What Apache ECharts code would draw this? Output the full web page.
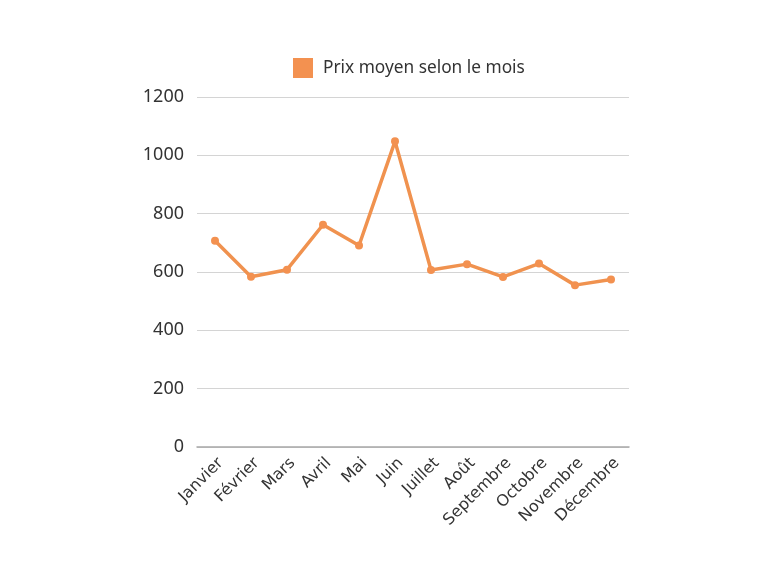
<!DOCTYPE html>
<html>
<head>
<meta charset="utf-8">
<script src="https://cdn.jsdelivr.net/npm/echarts@6/dist/echarts.min.js"></script>
<style>html,body{margin:0;padding:0;background:#fff;}#c{width:768px;height:576px;}</style>
</head>
<body>
<div id="c"></div>
<script>
const categories = ['Janvier','Février','Mars','Avril','Mai','Juin','Juillet','Août','Septembre','Octobre','Novembre','Décembre'];
const seriesName = 'Prix moyen selon le mois';
const values = [707, 584, 608, 762, 691, 1048, 607, 627, 583, 629, 555, 574];
const yTicks = [0, 200, 400, 600, 800, 1000, 1200];

const chart = echarts.init(document.getElementById('c'), null, {renderer: 'canvas'});
chart.setOption({
  animation: false,
  textStyle: {fontFamily: 'Noto Sans'},
  legend: {
    data: [{name: seriesName, icon: 'rect'}],
    top: 53,
    left: 288,
    itemWidth: 20,
    itemHeight: 20,
    itemGap: 10,
    textStyle: {fontSize: 17.3, color: '#333', fontFamily: 'Noto Sans', padding: [0,0,0,5]}
  },
  grid: {left: 197, top: 97, width: 432, height: 350, containLabel: false},
  xAxis: {
    type: 'category',
    data: categories,
    boundaryGap: true,
    axisLine: {lineStyle: {color: '#a8a8a8', width: 1.5}},
    axisTick: {show: false},
    axisLabel: {rotate: 45, fontSize: 16, color: '#333', margin: 8, interval: 0, fontFamily: 'DejaVu Sans', verticalAlign: 'top', align: 'right'}
  },
  yAxis: {
    type: 'value',
    min: yTicks[0],
    max: yTicks[yTicks.length - 1],
    interval: 200,
    axisLine: {show: false},
    axisTick: {show: false},
    axisLabel: {fontSize: 18, color: '#333', margin: 13, fontFamily: 'Noto Sans', formatter: v => String(v)},
    splitLine: {lineStyle: {color: '#d4d4d4', width: 1}}
  },
  series: [{
    name: seriesName,
    type: 'line',
    data: values,
    symbol: 'circle',
    symbolSize: 8,
    itemStyle: {color: '#F39150'},
    lineStyle: {color: '#F0924F', width: 3.5}
  }]
});
</script>
</body>
</html>
